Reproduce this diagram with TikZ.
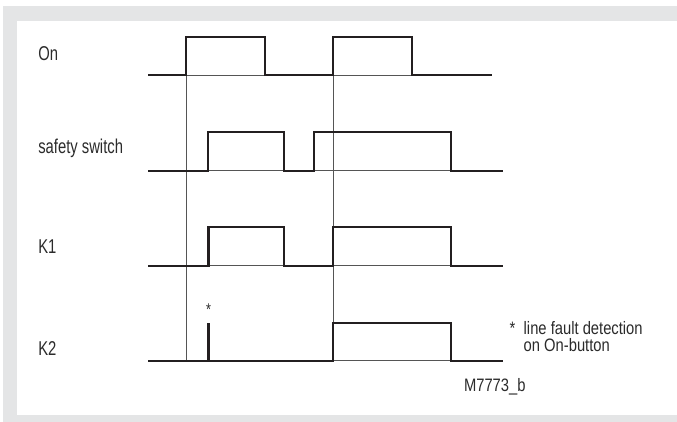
\documentclass[tikz,border=0pt]{standalone}
\usepackage{fontspec}
\setmainfont[FakeStretch=0.74]{Liberation Sans}
\newfontfamily\notefont[FakeStretch=0.82]{Liberation Sans}
\definecolor{framegray}{HTML}{E4E5E6}
\definecolor{sigcol}{HTML}{231F20}
\definecolor{thincol}{HTML}{555555}
\definecolor{txtcol}{HTML}{2B2B2B}
\begin{document}
\begin{tikzpicture}[x=1pt,y=-1pt,
  sig/.style={line width=2.2pt,draw=sigcol,line join=miter},
  thinl/.style={line width=0.9pt,draw=thincol},
  lbl/.style={anchor=base west,inner sep=0pt,outer sep=0pt,text=txtcol,font=\fontsize{20}{20}\selectfont},
  note/.style={anchor=base west,inner sep=0pt,outer sep=0pt,text=txtcol,align=left,font=\notefont\fontsize{18}{16.7}\selectfont}]
\useasboundingbox (0,0) rectangle (677,422);
\fill[white] (0,0) rectangle (677,422);
\fill[framegray] (3,6) rectangle (677,422);
\fill[white] (17.3,20.7) rectangle (677,414.7);
% labels
\node[lbl] (lOn) at (38.3,60.7) {On};
\node[lbl] (lSafe) at (38.3,154) {safety switch};
\node[lbl] (lK1) at (38.3,253.3) {K1};
\node[lbl] (lK2) at (38.3,355.3) {K2};
% thin baselines and markers
\draw[thinl] (148,75) -- (492,75);
\draw[thinl] (148,170.7) -- (503,170.7);
\draw[thinl] (148,265.7) -- (503,265.7);
\draw[thinl] (148,360.7) -- (503,360.7);
\draw[thinl] (186,75) -- (186,360.7);
\draw[thinl] (333.3,75) -- (333.3,360.7);
% On
\draw[sig] (148,75) -- (186,75) -- (186,37) -- (265.3,37) -- (265.3,75) -- (333.3,75) -- (333.3,37) -- (412.3,37) -- (412.3,75) -- (492,75);
% safety switch
\draw[sig] (148,170.7) -- (208.3,170.7) -- (208.3,132.3) -- (284.3,132.3) -- (284.3,170.7) -- (314.3,170.7) -- (314.3,132.3) -- (451.2,132.3) -- (451.2,170.7) -- (503,170.7);
% K1
\draw[sig] (148,265.7) -- (208.5,265.7) -- (208.5,227.3) -- (284.1,227.3) -- (284.1,265.7) -- (333.3,265.7) -- (333.3,227.3) -- (451.2,227.3) -- (451.2,265.7) -- (503,265.7);
% K2
\draw[sig] (148,360.7) -- (333.3,360.7) -- (333.3,322.7) -- (451.2,322.7) -- (451.2,360.7) -- (503,360.7);
\draw[sig] (208.5,360.7) -- (208.5,322.7);
\node[inner sep=0pt,text=txtcol,font=\fontsize{17}{17}\selectfont] (ast) at (208.5,310) {*};
% footnote
\node[note] (star) at (509.5,334.3) {*};
\node[note] (fn) at (523.7,351) {line fault detection\\on On-button};
\node[note] (code) at (464,391.7) {M7773\_b};
\end{tikzpicture}
\end{document}
